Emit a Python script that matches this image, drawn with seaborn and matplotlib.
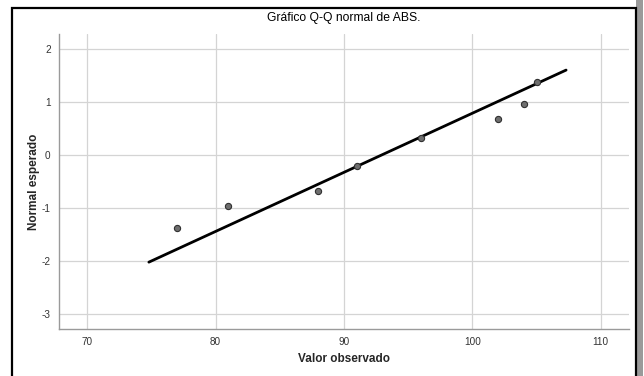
import matplotlib
matplotlib.use("Agg")
import matplotlib.pyplot as plt
import seaborn as sns
import numpy as np
import pandas as pd
from matplotlib.patches import Rectangle

# Data
observed = [77, 81, 88, 91, 96, 102, 104, 105]
expected_normal = [-1.38, -0.97, -0.67, -0.21, 0.32, 0.67, 0.97, 1.38]
line_x = [74.8, 107.3]
line_y = [-2.02, 1.60]
x_ticks = [70, 80, 90, 100, 110]
y_ticks = [-3, -2, -1, 0, 1, 2]

title = "Gráfico Q-Q normal de ABS."
xlabel = "Valor observado"
ylabel = "Normal esperado"

sns.set_style("white")
plt.rcParams['font.family'] = ['Liberation Sans', 'DejaVu Sans']
plt.rcParams['axes.unicode_minus'] = False

fig = plt.figure(figsize=(6.44, 3.76), dpi=100)
ax = fig.add_axes([59/644, 47/376, 570/644, 295/376])

df_pts = pd.DataFrame({"x": observed, "y": expected_normal})
df_line = pd.DataFrame({"x": line_x, "y": line_y})

sns.lineplot(data=df_line, x="x", y="y", ax=ax, color="black", linewidth=2.0, zorder=3)
sns.scatterplot(data=df_pts, x="x", y="y", ax=ax, s=20, color="#6e6e6e",
                edgecolor="#303030", linewidth=0.8, zorder=4)

ax.set_xlim(67.8, 112.2)
ax.set_ylim(-3.28, 2.28)
ax.set_xticks(x_ticks)
ax.set_yticks(y_ticks)
ax.tick_params(length=0, labelsize=7.2, colors="#333333", pad=6)
ax.grid(True, color="#d4d4d4", linewidth=0.9)
ax.set_axisbelow(True)
for s in ["top", "right"]:
    ax.spines[s].set_visible(False)
for s in ["left", "bottom"]:
    ax.spines[s].set_color("#9a9a9a")
    ax.spines[s].set_linewidth(1.0)

ax.set_xlabel(xlabel, fontsize=8.5, fontweight="bold", labelpad=4)
ax.set_ylabel(ylabel, fontsize=8.5, fontweight="bold", labelpad=1)
fig.text(344/644, 1 - 18/376, title, ha="center", va="center", fontsize=8.7,
         fontweight="normal", color="#000000")

# outer frame with shadow
fig.patches.append(Rectangle((636/644, -0.1), 7/644, 1.2 - 8/376 + 0.02,
                             transform=fig.transFigure, facecolor="#9a9a9a",
                             edgecolor="none", zorder=0))
fig.patches.append(Rectangle((12.5/644, -0.1), 623/644, 1.1 - 8.5/376,
                             transform=fig.transFigure, facecolor="none",
                             edgecolor="black", linewidth=1.6, zorder=1))

fig.savefig("out.png", dpi=100)
